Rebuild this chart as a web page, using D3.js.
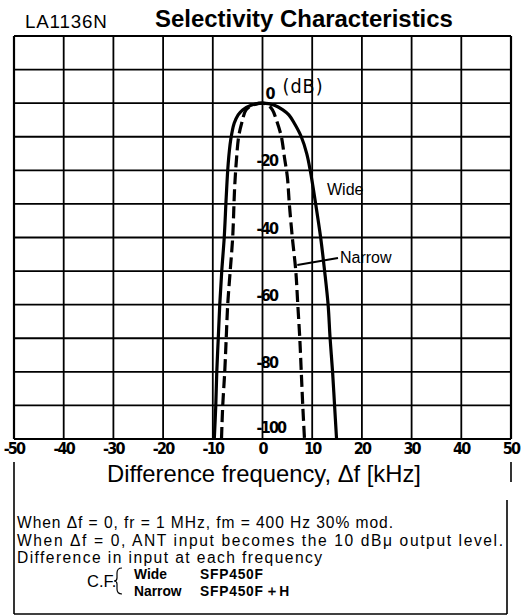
<!DOCTYPE html>
<html>
<head>
<meta charset="utf-8">
<script src="https://cdn.jsdelivr.net/npm/d3@7"></script>
<style>
  body { margin: 0; background: #fff; }
  svg { display: block; }
</style>
</head>
<body>
<svg id="chart" width="522" height="615"></svg>
<script>
// ---- data -------------------------------------------------------------
const freqTicks = [-50, -40, -30, -20, -10, 0, 10, 20, 30, 40, 50];          // kHz
const levelGrid = [20, 10, 0, -10, -20, -30, -40, -50, -60, -70, -80, -90, -100]; // dB
const levelLabels = [0, -20, -40, -60, -80, -100];

// Wide filter (SFP450F): difference frequency [kHz] vs relative level [dB]
const wideDf = [-9.7, -9.4, -9.2, -8.9, -8.6, -8.2, -7.7, -7.3, -6.9, -6.4, -5.7, -4.9, -4.0, -2.3, 0,
                2.4, 4.1, 5.3, 6.4, 7.8, 8.9, 9.6, 10.7, 11.7, 12.5, 13.2, 13.6, 14.1, 14.5, 14.9];
const wideDb = [-100, -90, -80, -70, -60, -50, -40, -28, -18, -11, -6, -3.5, -2, -0.6, 0,
                -0.6, -2, -3.5, -6, -10, -15, -20, -30, -40, -50, -60, -70, -80, -90, -100];

// Narrow filter (SFP450F + H)
const narrowDf = [-8.25, -8.0, -7.6, -7.3, -7.0, -6.5, -6.0, -5.6, -5.2, -4.8, -4.2, -3.3, -1.8, 0,
                  1.0, 2.0, 2.8, 3.8, 4.4, 5.0, 5.4, 6.0, 6.7, 7.1, 7.5, 7.8, 8.1, 8.45];
const narrowDb = [-100, -90, -80, -70, -60, -50, -40, -25, -16, -10, -6, -2, -0.5, 0,
                  -0.4, -2, -5, -10, -16, -22, -30, -40, -50, -60, -70, -80, -90, -100];

const chartTitle = "Selectivity Characteristics";
const partName = "LA1136N";
const xTitle = "Difference frequency, \u0394f [kHz]";
const unitLabel = "(dB)";
const notes = [
  "When \u0394f = 0, fr = 1 MHz, fm = 400 Hz 30% mod.",
  "When \u0394f = 0, ANT input becomes the 10 dB\u03bc output level.",
  "Difference in input at each frequency"
];
const filterNames = ["Wide", "Narrow"];
const filterParts = ["SFP450F", "SFP450F"];

// ---- layout -----------------------------------------------------------
const svg = d3.select("#chart");
const plotL = 14, plotR = 511, plotT = 36, plotB = 439;
const x = d3.scaleLinear().domain([-50, 50]).range([plotL, plotR]);
const y = d3.scaleLinear().domain([-100, 20]).range([plotB, plotT]);

const sans = "'Liberation Sans', Arial, Helvetica, sans-serif";
const digits = "'DejaVu Sans Condensed', 'DejaVu Sans', sans-serif";

// fit a text element to a given width by adjusting its font size
function fitWidth(sel, w) {
  const fs = parseFloat(sel.attr("font-size"));
  const cur = sel.node().getComputedTextLength();
  sel.attr("font-size", (fs * w / cur).toFixed(2));
  return sel;
}

// ---- titles -----------------------------------------------------------
fitWidth(svg.append("text").attr("x", 25).attr("y", 28)
  .attr("font-family", sans).attr("font-size", 15).attr("letter-spacing", 0.8)
  .text(partName), 84);
fitWidth(svg.append("text").attr("x", 155).attr("y", 27)
  .attr("font-family", sans).attr("font-weight", "bold").attr("font-size", 20)
  .text(chartTitle), 298);

// ---- grid -------------------------------------------------------------
const grid = svg.append("g").attr("stroke", "#000").attr("fill", "none");
grid.selectAll("line.v").data(freqTicks).join("line")
  .attr("class", "v")
  .attr("x1", d => x(d)).attr("x2", d => x(d))
  .attr("y1", y(20)).attr("y2", y(-100))
  .attr("stroke-width", d => (Math.abs(d) === 50 ? 2.2 : 1.8));
grid.selectAll("line.h").data(levelGrid).join("line")
  .attr("class", "h")
  .attr("x1", x(-50)).attr("x2", x(50))
  .attr("y1", d => y(d)).attr("y2", d => y(d))
  .attr("stroke-width", d => (d === 20 || d === -100 ? 2.2 : 1.8));

// ---- curves -----------------------------------------------------------
svg.append("clipPath").attr("id", "plot-clip")
  .append("rect").attr("x", plotL).attr("y", plotT)
  .attr("width", plotR - plotL).attr("height", plotB - plotT);

const line = d3.line()
  .x(d => x(d[0])).y(d => y(d[1]))
  .curve(d3.curveCatmullRom.alpha(0.5));

const curves = svg.append("g").attr("clip-path", "url(#plot-clip)")
  .attr("fill", "none").attr("stroke", "#000");
curves.append("path")
  .attr("d", line(d3.zip(wideDf, wideDb)))
  .attr("stroke-width", 3.2);
curves.append("path")
  .attr("d", line(d3.zip(narrowDf, narrowDb)))
  .attr("stroke-width", 3.2)
  .attr("stroke-dasharray", "12,5");

// ---- level labels along the 0 kHz line ----------------------------------
svg.append("g").selectAll("text").data(levelLabels).join("text")
  .attr("x", d => (d === 0 ? x(0) + 3 : x(0) - 6))
  .attr("y", d => y(d) - (d === -100 ? 6 : 4))
  .attr("font-family", digits).attr("font-weight", "bold")
  .attr("font-size", 16).attr("letter-spacing", -1.8)
  .text(d => d);
fitWidth(svg.append("text").attr("x", x(0) + 20).attr("y", y(0) - 10)
  .attr("font-family", digits).attr("font-size", 16).attr("letter-spacing", 1)
  .text(unitLabel), 42);

// ---- frequency tick labels ----------------------------------------------
svg.append("g").selectAll("text").data(freqTicks).join("text")
  .attr("x", d => x(d)).attr("y", plotB + 15)
  .attr("text-anchor", "middle")
  .attr("font-family", digits).attr("font-weight", "bold")
  .attr("font-size", 16).attr("letter-spacing", -1.8)
  .text(d => d);

// ---- curve annotations --------------------------------------------------
svg.append("text").attr("x", 327).attr("y", 195)
  .attr("font-family", sans).attr("font-size", 16).text(filterNames[0]);
svg.append("text").attr("x", 340).attr("y", 263)
  .attr("font-family", sans).attr("font-size", 16).text(filterNames[1]);
svg.append("line")
  .attr("x1", 338).attr("y1", 258).attr("x2", x(7.0)).attr("y2", 265)
  .attr("stroke", "#000").attr("stroke-width", 2);

// ---- axis title and note box --------------------------------------------
fitWidth(svg.append("text").attr("x", 264).attr("y", 482)
  .attr("text-anchor", "middle")
  .attr("font-family", sans).attr("font-size", 22)
  .text(xTitle), 314);

const box = svg.append("g").attr("stroke", "#000").attr("fill", "none").attr("stroke-width", 1.6);
box.append("line").attr("x1", 14).attr("x2", 14).attr("y1", 462).attr("y2", 614);
box.append("line").attr("x1", 14).attr("x2", 507).attr("y1", 614).attr("y2", 614);
box.append("line").attr("x1", 511).attr("x2", 511).attr("y1", 462).attr("y2", 482);
box.append("line").attr("x1", 507).attr("x2", 507).attr("y1", 500).attr("y2", 614);

// condition notes, tightly leaded
const noteWidths = [376, 486, 305];
svg.append("g").selectAll("text").data(notes).join("text")
  .attr("x", 17).attr("y", (d, i) => 528 + i * 17.5)
  .attr("font-family", sans).attr("font-size", 15.6)
  .attr("textLength", (d, i) => noteWidths[i]).attr("lengthAdjust", "spacing")
  .text(d => d);

// C.F. selector lines
svg.append("text").attr("x", 87).attr("y", 587)
  .attr("font-family", sans).attr("font-size", 16.5).text("C.F.");
svg.append("path")
  .attr("d", "M122,568 Q117,568 117,573 L117,578 Q117,581 114,581 Q117,581 117,584 L117,589 Q117,594 122,594")
  .attr("fill", "none").attr("stroke", "#000").attr("stroke-width", 1.2);
filterNames.forEach((name, i) => {
  const yy = 579 + i * 16.5;
  svg.append("text").attr("x", 134).attr("y", yy)
    .attr("font-family", sans).attr("font-weight", "bold").attr("font-size", 13.8)
    .text(name);
  const t = svg.append("text").attr("x", 200).attr("y", yy)
    .attr("font-family", sans).attr("font-weight", "bold").attr("font-size", 13.8);
  t.append("tspan").attr("textLength", 63).attr("lengthAdjust", "spacing").text(filterParts[i]);
  if (i === 1) {
    t.append("tspan").attr("font-weight", "normal").attr("font-size", 14.5).attr("dx", 4)
      .attr("stroke", "#000").attr("stroke-width", 0.4).text("+");
    t.append("tspan").attr("dx", 3).text("H");
  }
});
</script>
</body>
</html>
